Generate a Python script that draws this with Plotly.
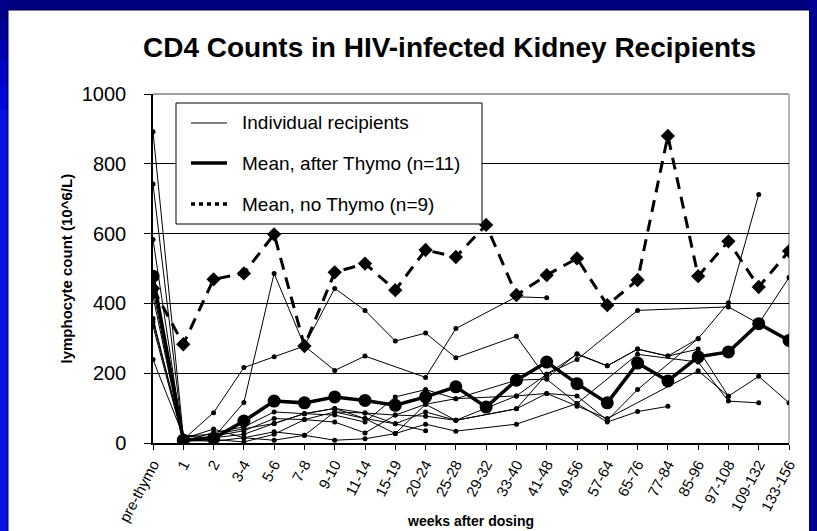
import plotly.graph_objects as go

N = None
categories = ["pre-thymo", "1", "2", "3-4", "5-6", "7-8", "9-10", "11-14", "15-19",
              "20-24", "25-28", "29-32", "33-40", "41-48", "49-56", "57-64", "65-76",
              "77-84", "85-96", "97-108", "109-132", "133-156"]

mean_no_thymo = [443, 283, 469, 486, 598, 278, 489, 514, 438, 553, 533, 625, 424, 481,
                 529, 395, 467, 880, 478, 578, 447, 550]
mean_after_thymo = [478, 8, 13, 63, 120, 115, 132, 122, 108, 132, 161, 103, 180, 232,
                    170, 115, 229, 178, 247, 261, 342, 294]

ind1 = [892, 20, 15, 116, 486, 278, 443, 380, 292, 315, 244, N, 306, 185, 256, 221, 269, 249, 269, 134, 191, 115]
ind2 = [742, 10, 87, 216, 247, 278, 208, 249, N, 188, 328, N, 419, 416, N, N, N, N, N, N, N, N]
ind3 = [583, 5, 30, 46, 89, 84, 99, 86, 80, 111, 127, N, 135, 197, 239, N, 380, N, N, 390, 342, 474]
ind4 = [440, 8, 20, 35, 70, 67, 89, 70, 55, 89, 65, N, 98, 142, 135, 65, 153, N, 299, 402, 712, N]
ind5 = [420, 5, 15, 25, 56, 84, 80, 60, 132, 153, 127, N, 180, 183, 113, N, 254, N, 232, 120, 115, N]
ind6 = [357, 12, 40, 15, 32, 22, 8, 12, 27, 54, 34, N, 54, N, 113, 60, 90, 105, N, N, N, N]
ind7 = [347, 15, 10, 3, 25, 67, 60, 29, 80, 77, 65, N, 135, 142, 105, 70, N, N, 207, 134, N, N]
ind8 = [335, 8, 5, 15, 8, 22, 89, 86, 55, 35, N, N, N, N, N, N, N, N, N, N, N, N]
ind9 = [239, 20, 25, 40, 56, 84, 99, 70, 27, 111, 65, N, 98, 197, 254, 221, 269, 249, 299, N, N, N]
individuals = [ind1, ind2, ind3, ind4, ind5, ind6, ind7, ind8, ind9]

y_ticks = [0, 200, 400, 600, 800, 1000]

title_text = "CD4 Counts in HIV-infected Kidney Recipients"
legend_labels = ["Individual recipients", "Mean, after Thymo (n=11)", "Mean, no Thymo (n=9)"]

FONT = "Arial, Liberation Sans, sans-serif"

fig = go.Figure()
for ind in individuals:
    fig.add_trace(go.Scatter(
        x=categories, y=ind, mode="lines+markers", connectgaps=True,
        line=dict(color="black", width=1), marker=dict(color="black", size=5),
        showlegend=False, hoverinfo="skip"))

fig.add_trace(go.Scatter(
    x=categories, y=mean_no_thymo, mode="lines+markers",
    line=dict(color="black", width=3, dash="12px,8px"),
    marker=dict(color="black", size=11, symbol="diamond"),
    showlegend=False))
fig.add_trace(go.Scatter(
    x=categories, y=mean_after_thymo, mode="lines+markers",
    line=dict(color="black", width=3.5),
    marker=dict(color="black", size=13, symbol="circle"),
    showlegend=False))

# geometry (pixels)
W, H = 817, 531
L, R, T, B = 153, 28, 94, 88
pw, ph = W - L - R, H - T - B

def px(x):
    return (x - L) / pw

def py(y):
    return (H - B - y) / ph

shapes = []
# blue slide frame
shapes.append(dict(type="rect", xref="paper", yref="paper", x0=px(0), x1=px(W), y0=py(0), y1=py(10),
                   fillcolor="#000080", line_width=0, layer="below"))
left_cols = ["#000088", "#000098", "#0000b0", "#0004c8", "#0008d8", "#0a10e4"]
seg = [0, 20, 40, 60, 85, 110, 531]
for i, c in enumerate(left_cols):
    shapes.append(dict(type="rect", xref="paper", yref="paper", x0=px(0), x1=px(8),
                       y0=py(seg[i + 1]), y1=py(seg[i]), fillcolor=c, line_width=0, layer="below"))
shapes.append(dict(type="rect", xref="paper", yref="paper", x0=px(809), x1=px(W), y0=py(H), y1=py(0),
                   fillcolor="#000090", line_width=0, layer="below"))
shapes.append(dict(type="line", xref="paper", yref="paper", x0=px(8), x1=px(8), y0=py(H), y1=py(10),
                   line=dict(color="#000030", width=1), layer="below"))
shapes.append(dict(type="line", xref="paper", yref="paper", x0=px(8), x1=px(809), y0=py(10), y1=py(10),
                   line=dict(color="#000030", width=1), layer="below"))
# plot border top & right (gray)
shapes.append(dict(type="line", xref="paper", yref="paper", x0=0, x1=1, y0=1, y1=1,
                   line=dict(color="#808080", width=1.5), layer="below"))
shapes.append(dict(type="line", xref="paper", yref="paper", x0=1, x1=1, y0=0, y1=1,
                   line=dict(color="#a0a0a0", width=1.5), layer="below"))
# legend box
shapes.append(dict(type="rect", xref="paper", yref="paper", x0=px(176), x1=px(482), y0=py(224), y1=py(103),
                   fillcolor="white", line=dict(color="black", width=1), layer="above"))
rows = [123, 163, 204]
styles = [dict(color="black", width=1), dict(color="black", width=3.5), dict(color="black", width=3.5, dash="4px,4px")]
for r, st in zip(rows, styles):
    shapes.append(dict(type="line", xref="paper", yref="paper", x0=px(191), x1=px(227), y0=py(r), y1=py(r),
                       line=st, layer="above"))

annotations = []
for r, lab in zip(rows, legend_labels):
    annotations.append(dict(text=lab, xref="paper", yref="paper", x=px(240), y=py(r), xanchor="left",
                            yanchor="middle", showarrow=False, font=dict(family=FONT, size=19, color="black")))
annotations.append(dict(text="<b>" + title_text + "</b>", xref="paper", yref="paper", x=px(449), y=py(47),
                        xanchor="center", yanchor="middle", showarrow=False,
                        font=dict(family=FONT, size=28, color="black")))
annotations.append(dict(text="<b>weeks after dosing</b>", xref="paper", yref="paper", x=px(470), y=py(521),
                        xanchor="center", yanchor="middle", showarrow=False,
                        font=dict(family=FONT, size=14, color="black")))
annotations.append(dict(text="<b>lymphocyte count (10^6/L)</b>", xref="paper", yref="paper", x=px(66), y=0.5,
                        xanchor="center", yanchor="middle", textangle=-90, showarrow=False,
                        font=dict(family=FONT, size=15, color="black")))

fig.update_layout(
    width=W, height=H, margin=dict(l=L, r=R, t=T, b=B, autoexpand=False),
    paper_bgcolor="white", plot_bgcolor="white",
    shapes=shapes, annotations=annotations, showlegend=False,
    xaxis=dict(type="category", categoryorder="array", categoryarray=categories,
               range=[0, 21], showline=True, linecolor="black", linewidth=1.5,
               ticks="outside", ticklen=5, tickcolor="black", tickangle=-62,
               tickfont=dict(family=FONT, size=15, color="black"), showgrid=False, zeroline=False),
    yaxis=dict(range=[0, 1000], tickvals=y_ticks, showline=True, linecolor="black", linewidth=1.5,
               ticks="outside", ticklen=7, tickcolor="black", ticklabelstandoff=14,
               tickfont=dict(family=FONT, size=20, color="black"),
               showgrid=True, gridcolor="black", gridwidth=1, zeroline=False),
)

fig.write_html("out.html", config={"displayModeBar": False},
               post_script="document.body.style.margin='0';document.body.style.padding='0';"
                           "document.documentElement.style.overflow='hidden';")
